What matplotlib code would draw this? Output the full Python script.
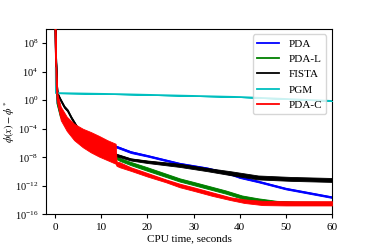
import matplotlib
matplotlib.use("Agg")
import matplotlib.pyplot as plt
import matplotlib.ticker as mticker
import numpy as np

plt.rcParams['font.family'] = ['Liberation Serif', 'DejaVu Serif']
plt.rcParams['mathtext.fontset'] = 'stix'
plt.rcParams['font.size'] = 8

# values are read as log10 exponents (lower / upper edge of the noisy trace)
t_pda = [0, 0.3, 0.5, 1.2, 4.1, 7.7, 11.3, 13.1, 16.4, 20, 27, 33, 38, 40, 44, 50, 55, 60]
lo_pda = [11, 2, -0.5, -2.2, -4.7, -5.7, -6.6, -6.6, -7.4, -7.9, -9.0, -9.65, -10.45, -10.9, -11.5, -12.5, -13.1, -13.7]
hi_pda = [11, 2, -0.3, -2.0, -4.5, -5.5, -6.4, -6.35, -7.15, -7.7, -8.8, -9.45, -10.25, -10.7, -11.3, -12.3, -12.9, -13.5]

t_pdal = [0, 0.3, 0.5, 1.2, 4.1, 7.7, 11.3, 14, 16.4, 20, 27, 30, 37, 40.5, 44, 48, 52, 60]
lo_pdal = [11, 2, -0.6, -2.4, -5.1, -6.3, -7.5, -8.5, -9.1, -9.9, -11.4, -11.9, -13.1, -13.8, -14.2, -14.55, -14.65, -14.7]
hi_pdal = [11, 2, -0.4, -2.2, -4.9, -6.0, -7.1, -8.1, -8.65, -9.4, -10.95, -11.45, -12.65, -13.35, -13.75, -14.1, -14.2, -14.25]

t_fista = [0, 0.3, 0.5, 1.0, 1.5, 2.0, 2.7, 3.5, 5, 8, 11, 13, 16.4, 20, 27, 33, 38, 44, 51, 60]
lo_fista = [11, 3, 0.9, 0.1, -0.5, -1.1, -1.6, -2.6, -4.2, -5.8, -7.1, -7.8, -8.45, -8.8, -9.35, -9.95, -10.5, -11.1, -11.3, -11.45]
hi_fista = [11, 3, 1.1, 0.4, -0.2, -0.8, -1.3, -2.3, -3.9, -5.5, -6.8, -7.45, -8.15, -8.45, -8.9, -9.5, -9.95, -10.55, -10.75, -10.9]

t_pgm = [0.12, 0.15, 0.5, 14, 40, 60]
lo_pgm = [4.5, 1.0, 1.0, 0.85, 0.45, -0.1]
hi_pgm = [4.5, 1.0, 1.0, 0.85, 0.45, -0.1]

t_pdac = [0, 0.15, 0.3, 0.5, 1.2, 2.5, 4.1, 6, 7.7, 9.5, 11.3, 13.1, 13.3, 14, 16.4, 20, 24, 27, 30, 34, 38, 41, 45, 50, 55, 60]
lo_pdac = [11, 6, 2.0, -0.5, -2.8, -4.3, -5.6, -6.6, -7.3, -7.9, -8.4, -8.9, -9.2, -9.4, -9.9, -10.7, -11.5, -12.2, -12.7, -13.4, -14.0, -14.4, -14.7, -14.75, -14.75, -14.75]
hi_pdac = [11, 6, 2.5, 0.8, -0.9, -2.3, -3.3, -4.0, -4.45, -5.0, -5.6, -6.1, -8.6, -8.7, -9.4, -10.2, -11.1, -11.7, -12.2, -12.9, -13.6, -13.9, -14.1, -14.15, -14.15, -14.15]

series = [
    ('PDA', 'b', t_pda, lo_pda, hi_pda),
    ('PDA-L', 'g', t_pdal, lo_pdal, hi_pdal),
    ('FISTA', 'k', t_fista, lo_fista, hi_fista),
    ('PGM', 'c', t_pgm, lo_pgm, hi_pgm),
    ('PDA-C', 'r', t_pdac, lo_pdac, hi_pdac),
]

fig = plt.figure(figsize=(3.68, 2.45), dpi=100)
ax = fig.add_axes([0.125, 0.125, 0.777, 0.757])

for i, (name, color, t, lo, hi) in enumerate(series):
    t = np.array(t)
    lo = np.array(lo, dtype=float)
    hi = np.array(hi, dtype=float)
    ax.fill_between(t, 10.0 ** lo, 10.0 ** hi, color=color, lw=0.6, zorder=2 + i)
    ax.plot(t, 10.0 ** ((lo + hi) / 2), color=color, lw=1.3, label=name, zorder=2 + i)

ax.set_yscale('log')
ax.set_xlim(-2, 60)
ax.set_ylim(1e-16, 1e10)
ax.set_xticks([0, 10, 20, 30, 40, 50, 60])
ax.set_yticks([1e-16, 1e-12, 1e-8, 1e-4, 1e0, 1e4, 1e8])
ax.yaxis.set_major_formatter(mticker.LogFormatterSciNotation())
ax.yaxis.set_minor_locator(mticker.NullLocator())
ax.tick_params(axis='x', labelsize=8, length=3)
ax.tick_params(axis='y', labelsize=7.5, length=3, pad=2.5)

ax.set_xlabel('CPU time, seconds', fontsize=8, labelpad=1)
ax.set_ylabel(r'$\phi(x)-\phi^*$', fontsize=7.5)
ax.yaxis.set_label_coords(-0.1, 0.5)
ax.legend(loc='upper right', fontsize=8)

plt.savefig('out.png', dpi=100)
